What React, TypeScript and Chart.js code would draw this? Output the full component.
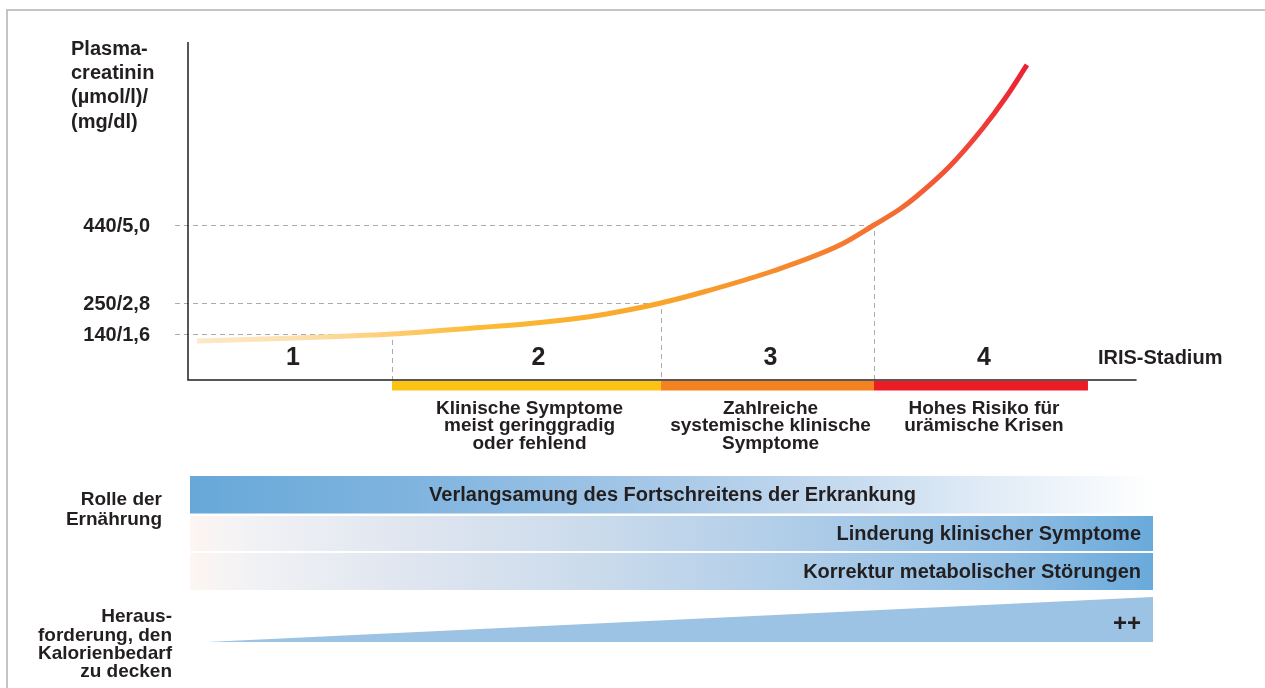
import React, { useEffect, useRef } from 'react';
import { Chart, registerables } from 'chart.js';

Chart.register(...registerables);

const FONT = '"Liberation Sans", Arial, Helvetica, sans-serif';
const TEXT = '#231f20';

// Curve: disease progression (0–100) vs. schematic plasma creatinine level (0–100)
const curveX = [0.93, 9.53, 21.14, 30.26, 35.44, 40.62, 44.77, 49.02, 53.78, 60.62, 67.56, 71.09, 73.78, 75.54, 78.96, 82.38, 84.77, 86.94];
const curveY = [11.54, 12.28, 13.61, 15.53, 16.72, 18.34, 20.27, 22.78, 26.33, 32.25, 39.94, 45.86, 50.59, 54.44, 63.31, 74.56, 83.73, 93.2];

// IRIS stages
const stageNames = ['1', '2', '3', '4'];
const stageBounds = [0, 21.14, 49.02, 71.09, 93.26];
const stageColors = ['rgba(0,0,0,0)', '#fdc314', '#f58220', '#ed1c24'];
const stageDescriptions = [
  [],
  ['Klinische Symptome', 'meist geringgradig', 'oder fehlend'],
  ['Zahlreiche', 'systemische klinische', 'Symptome'],
  ['Hohes Risiko für', 'urämische Krisen'],
];
const stageAxisTitle = 'IRIS-Stadium';

// Y ticks (creatinine thresholds at stage boundaries)
const tickLevels = [13.61, 22.78, 45.86];
const tickLabels = ['140/1,6', '250/2,8', '440/5,0'];
const yAxisTitle = ['Plasma-', 'creatinin', '(µmol/l)/', '(mg/dl)'];

// Role of nutrition
const roleTitle = ['Rolle der', 'Ernährung'];
const roleLabels = [
  'Verlangsamung des Fortschreitens der Erkrankung',
  'Linderung klinischer Symptome',
  'Korrektur metabolischer Störungen',
];
const roleStart = [0, 0, 0];
const roleEnd = [100, 100, 100];
const roleTrend = ['decreasing', 'increasing', 'increasing'];

// Challenge of meeting energy requirement
const challengeTitle = ['Heraus-', 'forderung, den', 'Kalorienbedarf', 'zu decken'];
const challengeX = [2, 100];
const challengeLevel = [0, 1];
const challengeLabel = '++';

function text(c: CanvasRenderingContext2D, s: string, x: number, y: number, size: number, align: CanvasTextAlign) {
  c.font = `bold ${size}px ${FONT}`;
  c.fillStyle = TEXT;
  c.textAlign = align;
  c.textBaseline = 'middle';
  c.fillText(s, x, y);
}

const irisPlugin = {
  id: 'irisPlugin',
  beforeDraw(chart: any) {
    const c = chart.ctx as CanvasRenderingContext2D;
    c.save();
    c.fillStyle = '#ffffff';
    c.fillRect(0, 0, chart.width, chart.height);
    c.strokeStyle = '#c4c4c4';
    c.lineWidth = 2;
    c.beginPath();
    c.moveTo(7, chart.height + 5);
    c.lineTo(7, 10);
    c.lineTo(chart.width + 5, 10);
    c.stroke();
    c.restore();
  },
  beforeDatasetsDraw(chart: any) {
    const c = chart.ctx as CanvasRenderingContext2D;
    const X = chart.scales.x;
    const Y = chart.scales.y;
    const px = (v: number) => X.getPixelForValue(v);
    const py = (v: number) => Y.getPixelForValue(v);
    c.save();
    // dashed guides
    c.strokeStyle = '#ababab';
    c.lineWidth = 1;
    c.setLineDash([5, 4]);
    tickLevels.forEach((lv, i) => {
      const bx = px(stageBounds[i + 1]);
      const y = Math.round(py(lv)) + 0.5;
      c.beginPath();
      c.moveTo(px(0) - 13, y);
      c.lineTo(bx, y);
      c.stroke();
      c.beginPath();
      c.moveTo(Math.round(bx) + 0.5, py(lv) + 6);
      c.lineTo(Math.round(bx) + 0.5, py(0));
      c.stroke();
    });
    c.setLineDash([]);
    // stage bars
    for (let i = 0; i < stageNames.length; i++) {
      const x0 = px(stageBounds[i]);
      const x1 = px(stageBounds[i + 1]);
      c.fillStyle = stageColors[i];
      c.fillRect(x0, py(0) + 1, x1 - x0, 9.5);
    }
    // axes
    c.strokeStyle = TEXT;
    c.lineWidth = 1.5;
    c.beginPath();
    c.moveTo(px(0), py(100));
    c.lineTo(px(0), py(0));
    c.lineTo(px(98.3), py(0));
    c.stroke();
    // tick labels
    tickLevels.forEach((lv, i) => text(c, tickLabels[i], px(0) - 38, py(lv) + 1, 20, 'right'));
    // y title
    yAxisTitle.forEach((s, i) => text(c, s, 71, 49 + i * 24.4, 20, 'left'));
    // stage numbers & descriptions
    for (let i = 0; i < stageNames.length; i++) {
      const mid = (px(stageBounds[i]) + px(stageBounds[i + 1])) / 2;
      text(c, stageNames[i], mid + (i === 1 ? 12 : 3), py(0) - 22, 25, 'center');
      stageDescriptions[i].forEach((s, j) => text(c, s, mid + 3, py(0) + 28.5 + j * 17.6, 19, 'center'));
    }
    text(c, stageAxisTitle, px(stageBounds[4]) + 10, py(0) - 22, 20, 'left');
    c.restore();
  },
  afterDraw(chart: any) {
    const c = chart.ctx as CanvasRenderingContext2D;
    const X = chart.scales.x;
    const px = (v: number) => X.getPixelForValue(v);
    const base = chart.scales.y.getPixelForValue(0);
    const rowTop = [base + 96, base + 136, base + 173];
    const rowBottom = [base + 133.5, base + 171, base + 210];
    c.save();
    roleLabels.forEach((label, i) => {
      const x0 = px(roleStart[i]) + 2;
      const x1 = px(roleEnd[i]);
      const g = c.createLinearGradient(x0, 0, x1, 0);
      if (roleTrend[i] === 'decreasing') {
        g.addColorStop(0, '#67a8d9');
        g.addColorStop(0.25, '#82b5df');
        g.addColorStop(0.5, '#a9c9e8');
        g.addColorStop(0.75, '#d2e2f2');
        g.addColorStop(1, '#ffffff');
      } else {
        g.addColorStop(0, '#fdf6f2');
        g.addColorStop(0.06, '#f2f2f5');
        g.addColorStop(0.22, '#e0e6f0');
        g.addColorStop(0.4, '#cddcec');
        g.addColorStop(0.6, '#b3cfe9');
        g.addColorStop(0.85, '#90bde3');
        g.addColorStop(1, '#69aadb');
      }
      c.fillStyle = g;
      c.fillRect(x0, rowTop[i], x1 - x0, rowBottom[i] - rowTop[i]);
      const cy = (rowTop[i] + rowBottom[i]) / 2 + 1;
      if (roleTrend[i] === 'decreasing') text(c, label, (x0 + x1) / 2 + 1, cy, 20, 'center');
      else text(c, label, x1 - 12, cy, 20, 'right');
    });
    // challenge wedge
    const wTop = base + 217;
    const wBottom = base + 262;
    const h = wBottom - wTop;
    c.fillStyle = '#9dc3e4';
    c.beginPath();
    c.moveTo(px(challengeX[0]), wBottom - h * challengeLevel[0]);
    c.lineTo(px(challengeX[1]), wBottom - h * challengeLevel[1]);
    c.lineTo(px(challengeX[1]), wBottom);
    c.lineTo(px(challengeX[0]), wBottom);
    c.closePath();
    c.fill();
    text(c, challengeLabel, px(challengeX[1]) - 12, base + 244, 24, 'right');
    // left titles
    roleTitle.forEach((s, i) => text(c, s, 162, 500 + i * 19.5, 19, 'right'));
    challengeTitle.forEach((s, i) => text(c, s, 172, 617 + i * 18.4, 19, 'right'));
    c.restore();
  },
};

export default function App() {
  const ref = useRef<HTMLCanvasElement>(null);
  useEffect(() => {
    document.body.style.margin = '0';
    document.body.style.overflow = 'hidden';
    const chart = new Chart(ref.current as HTMLCanvasElement, {
      type: 'line',
      data: {
        datasets: [
          {
            label: 'Plasmacreatinin',
            data: curveX.map((x, i) => ({ x, y: curveY[i] })),
            borderWidth: 5,
            pointRadius: 0,
            cubicInterpolationMode: 'monotone',
            fill: false,
            borderCapStyle: 'butt',
            borderColor: (ctx: any) => {
              const chart = ctx.chart;
              if (!chart.chartArea) return '#f7931e';
              const x0 = chart.scales.x.getPixelForValue(curveX[0]);
              const x1 = chart.scales.x.getPixelForValue(curveX[curveX.length - 1]);
              const g = chart.ctx.createLinearGradient(x0, 0, x1, 0);
              g.addColorStop(0, '#fde9c8');
              g.addColorStop(0.12, '#fde0ae');
              g.addColorStop(0.24, '#fdcc70');
              g.addColorStop(0.34, '#fcbb34');
              g.addColorStop(0.56, '#f9a52a');
              g.addColorStop(0.62, '#f89b2b');
              g.addColorStop(0.78, '#f57a30');
              g.addColorStop(0.85, '#f36a33');
              g.addColorStop(0.92, '#f04a38');
              g.addColorStop(1, '#ec1f35');
              return g;
            },
          } as any,
        ],
      },
      options: {
        responsive: false,
        animation: false,
        devicePixelRatio: 1,
        events: [],
        layout: { padding: { left: 188, right: 112, top: 42, bottom: 308 } },
        plugins: { legend: { display: false }, tooltip: { enabled: false } },
        scales: {
          x: { type: 'linear', min: 0, max: 100, display: false },
          y: { type: 'linear', min: 0, max: 100, display: false },
        },
      },
      plugins: [irisPlugin],
    });
    return () => chart.destroy();
  }, []);
  return (
    <div style={{ width: 1265, height: 688 }}>
      <canvas ref={ref} width={1265} height={688} style={{ display: 'block', width: 1265, height: 688 }} />
    </div>
  );
}
